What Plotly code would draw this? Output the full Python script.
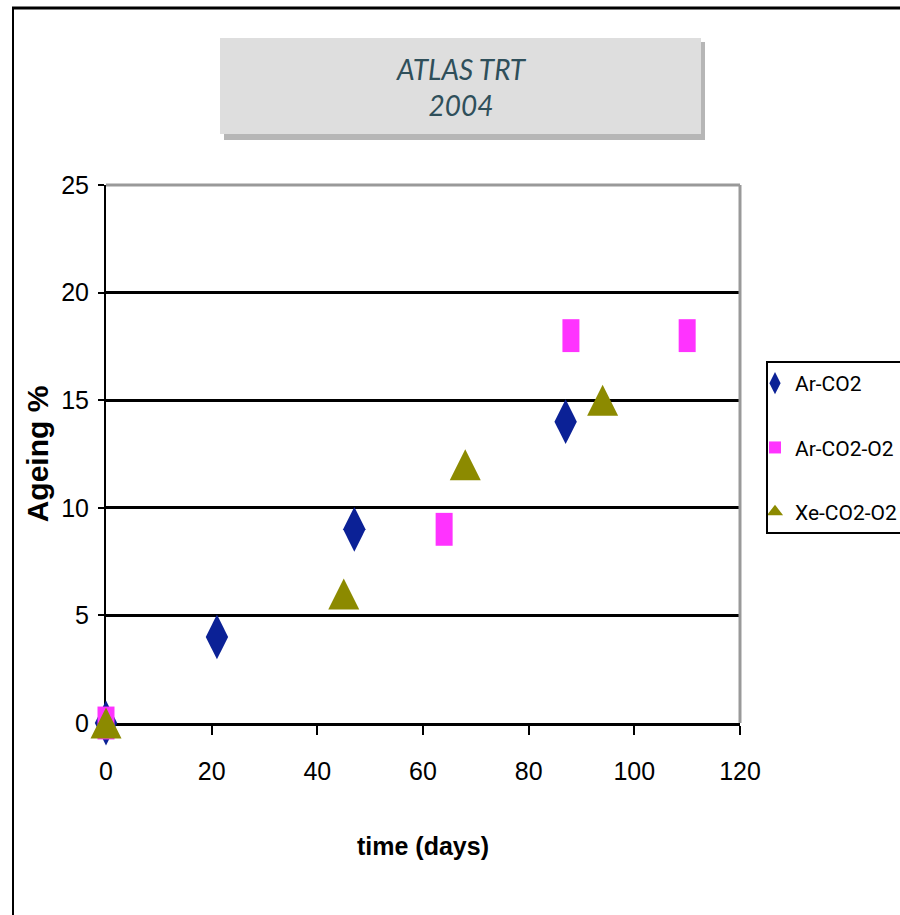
import plotly.graph_objects as go

# ---- data ----
ar_co2_days = [0, 21, 47, 87]
ar_co2_ageing = [0, 4, 9, 14]

ar_co2_o2_days = [0, 64, 88, 110]
ar_co2_o2_ageing = [0, 9, 18, 18]

xe_co2_o2_days = [0, 45, 68, 94]
xe_co2_o2_ageing = [0, 6, 12, 15]

series_names = ["Ar-CO2", "Ar-CO2-O2", "Xe-CO2-O2"]
x_ticks = [0, 20, 40, 60, 80, 100, 120]
y_ticks = [0, 5, 10, 15, 20, 25]

# ---- layout geometry (pixels) ----
W, H = 900, 915
L, R, T, B = 106, 740, 185, 723


def px(x):
    return (x - L) / (R - L)


def py(y):
    return (B - y) / (B - T)


NAVY = "#0b2196"
MAGENTA = "#ff33ff"
OLIVE = "#8c8a00"
SANS = "Liberation Sans, Arial, sans-serif"
LEG = "Roboto, Liberation Sans, sans-serif"

fig = go.Figure()

fig.add_trace(go.Scatter(
    x=ar_co2_days, y=ar_co2_ageing, mode="markers", name=series_names[0],
    marker=dict(symbol="diamond-tall", size=32, color=NAVY, line=dict(width=0)),
    cliponaxis=False, legendgroup="a", legendrank=1,
))
fig.add_trace(go.Scatter(
    x=ar_co2_o2_days, y=ar_co2_o2_ageing, mode="markers", name=series_names[1],
    marker=dict(symbol="line-ns-open", size=23.5, color=MAGENTA,
                line=dict(width=17, color=MAGENTA)),
    cliponaxis=False, legendgroup="b", showlegend=False,
))
fig.add_trace(go.Scatter(
    x=xe_co2_o2_days, y=xe_co2_o2_ageing, mode="markers", name=series_names[2],
    marker=dict(symbol="arrow-down", angle=180, size=31, standoff=15.5, color=OLIVE,
                line=dict(width=0)),
    cliponaxis=False, legendgroup="c", showlegend=False,
))
# legend entries
fig.add_trace(go.Scatter(
    x=[None], y=[None], mode="markers", name=series_names[1],
    marker=dict(symbol="square", size=12, color=MAGENTA, line=dict(width=0)),
    legendgroup="b", legendrank=2,
))
fig.add_trace(go.Scatter(
    x=[None], y=[None], mode="markers", name=series_names[2],
    marker=dict(symbol="triangle-up", size=14, color=OLIVE, line=dict(width=0)),
    legendgroup="c", legendrank=3,
))

shapes = [
    # outer frame
    dict(type="line", xref="paper", yref="paper", x0=px(12), x1=px(905), y0=py(8), y1=py(8),
         line=dict(color="black", width=3)),
    dict(type="line", xref="paper", yref="paper", x0=px(13), x1=px(13), y0=py(7), y1=py(920),
         line=dict(color="black", width=2)),
    # title box shadow + box
    dict(type="rect", xref="paper", yref="paper", x0=px(224), x1=px(705), y0=py(42), y1=py(140),
         fillcolor="#a9a9a9", line=dict(width=0), opacity=0.85),
    dict(type="rect", xref="paper", yref="paper", x0=px(220), x1=px(701), y0=py(38), y1=py(134),
         fillcolor="#dedede", line=dict(width=0)),
    # plot-area top/right border (gray)
    dict(type="line", xref="paper", yref="paper", x0=0, x1=1, y0=1, y1=1,
         line=dict(color="#999999", width=3)),
    dict(type="line", xref="paper", yref="paper", x0=1, x1=1, y0=0, y1=1,
         line=dict(color="#999999", width=3)),
]

annotations = [
    dict(xref="paper", yref="paper", x=px(461), y=py(87), xanchor="center", yanchor="middle",
         text="ATLAS TRT<br>2004", showarrow=False, align="center",
         font=dict(family="Lato, Open Sans, sans-serif", size=28, color="#2f4f5a", style="italic")),
]

fig.update_layout(
    width=W, height=H,
    margin=dict(l=L, r=W - R, t=T, b=H - B, pad=0),
    paper_bgcolor="white", plot_bgcolor="white",
    shapes=shapes, annotations=annotations,
    showlegend=True,
    legend=dict(
        xref="container", yref="container",
        x=766 / W, y=1 - 361 / H, xanchor="left", yanchor="top",
        bgcolor="white", bordercolor="black", borderwidth=2,
        font=dict(family=LEG, size=21, color="black"),
        traceorder="grouped", tracegroupgap=34, itemsizing="trace",
        indentation=-13,
    ),
    xaxis=dict(
        range=[0, 120], tickvals=x_ticks, ticks="outside", ticklen=9, tickwidth=2,
        tickcolor="black", showline=True, linecolor="black", linewidth=3,
        showgrid=False, zeroline=False, layer="below traces",
        tickfont=dict(family=SANS, size=25, color="black"),
        ticklabelstandoff=15,
        title=dict(text="time (days)", standoff=54,
                   font=dict(family=SANS, size=25, color="black", weight="bold")),
        automargin=False, fixedrange=True,
    ),
    yaxis=dict(
        range=[0, 25], tickvals=y_ticks, ticks="outside", ticklen=6, tickwidth=2,
        tickcolor="black", showline=True, linecolor="black", linewidth=2,
        showgrid=True, gridcolor="black", gridwidth=3, zeroline=False, layer="below traces",
        tickfont=dict(family=SANS, size=25, color="black"),
        ticklabelstandoff=4,
        title=dict(text="Ageing %", standoff=4,
                   font=dict(family=SANS, size=30, color="black", weight="bold")),
        automargin=False, fixedrange=True,
    ),
)

fig.write_html("out.html")
